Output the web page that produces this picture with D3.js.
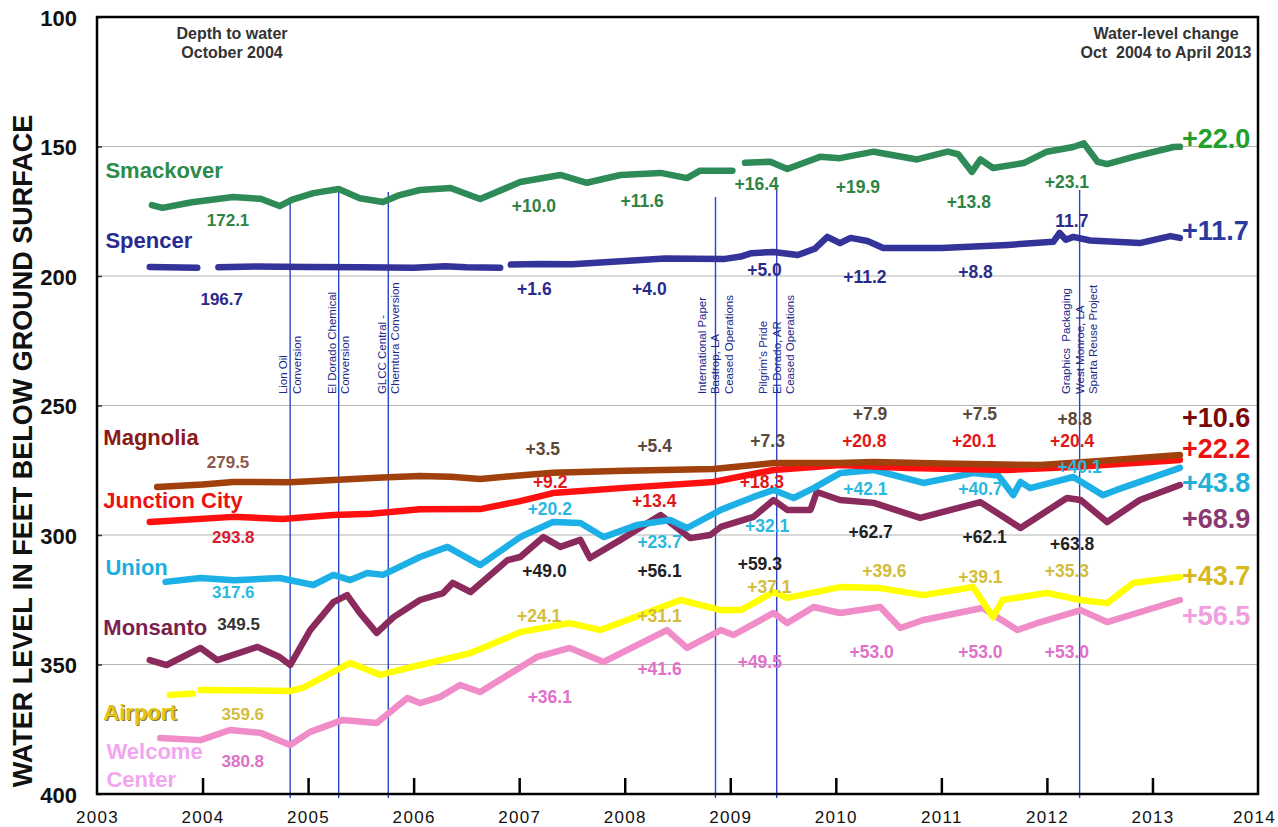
<!DOCTYPE html>
<html>
<head>
<meta charset="utf-8">
<script src="https://cdn.jsdelivr.net/npm/d3@7"></script>
<style>
  body { margin: 0; background: #fff; }
  svg { display: block; font-family: "Liberation Sans", Arial, sans-serif; }
</style>
</head>
<body>
<svg width="1278" height="827"></svg>
<script>
// water levels, [year, depth below surface in ft]; null = gap in record
const smackover = [[2003.52,172.6],[2003.62,173.7],[2003.9,171.5],[2004.29,169.5],[2004.55,170.2],[2004.73,173],[2004.85,170.5],[2005.05,168],[2005.29,166.4],[2005.49,170],[2005.71,171.4],[2005.85,169],[2006.06,166.8],[2006.35,166],[2006.63,170.3],[2007.01,163.7],[2007.39,161],[2007.64,164],[2007.96,161],[2008.34,160.2],[2008.59,162.2],[2008.71,159.4],[2009.02,159.4],null,[2009.14,156.3],[2009.38,155.9],[2009.54,158.7],[2009.85,154],[2010.04,154.5],[2010.36,152],[2010.77,155],[2011.06,152],[2011.16,153],[2011.29,159.8],[2011.37,155],[2011.49,158.3],[2011.78,156.4],[2012.0,152],[2012.25,150.2],[2012.35,148.8],[2012.48,155.9],[2012.57,156.8],[2012.82,154],[2013.2,150.2],[2013.26,150.1]];
const spencer = [[2003.5,196.5],[2003.95,196.8],null,[2004.15,196.6],[2004.5,196.3],[2005.0,196.5],[2005.5,196.6],[2006.0,196.8],[2006.3,196.2],[2006.5,196.6],[2006.82,196.8],null,[2006.92,195.6],[2007.2,195.4],[2007.5,195.5],[2008.0,194.2],[2008.38,193.2],[2008.95,193.4],[2009.1,192.5],[2009.2,191.2],[2009.41,190.7],[2009.64,191.9],[2009.8,189.5],[2009.92,184.9],[2010.04,187.3],[2010.14,185.3],[2010.3,186.5],[2010.45,189.2],[2011.0,189.2],[2011.63,188],[2012.06,186.8],[2012.12,183.4],[2012.18,186],[2012.25,184.9],[2012.41,186.3],[2012.88,187.3],[2013.17,184.6],[2013.26,185.3]];
const magnolia = [[2003.57,281.5],[2004.0,280.5],[2004.29,279.5],[2004.83,279.6],[2005.24,278.8],[2005.7,277.8],[2006.06,277.2],[2006.35,277.5],[2006.63,278.4],[2007.0,277],[2007.32,276],[2008.0,275.2],[2008.84,274.5],[2009.41,272.2],[2010.04,272.2],[2010.36,271.8],[2011.0,272.4],[2011.94,273],[2012.5,271.4],[2013.26,269.1]];
const junctionCity = [[2003.5,295],[2004.29,293],[2004.76,293.8],[2005.24,292.3],[2005.6,291.8],[2006.06,290.1],[2006.63,290],[2007.0,287],[2007.32,283.8],[2007.96,281.9],[2008.84,279.5],[2009.41,274.9],[2010.04,273],[2010.67,274.1],[2011.62,274.9],[2012.25,273.7],[2013.26,271]];
const union = [[2003.65,318.1],[2003.98,316.6],[2004.3,317.5],[2004.73,316.6],[2005.05,319.3],[2005.24,315.4],[2005.4,317.4],[2005.56,314.7],[2005.71,315.4],[2006.06,308.5],[2006.32,304.6],[2006.63,311.6],[2007.01,300.8],[2007.32,295],[2007.58,295.4],[2007.8,300.8],[2008.12,296.1],[2008.43,294.2],[2008.59,297.3],[2008.91,290.3],[2009.22,285.3],[2009.41,282.6],[2009.6,285.7],[2009.79,281.9],[2010.04,276.1],[2010.36,274.9],[2010.83,279.9],[2011.3,276.1],[2011.54,277],[2011.68,284.6],[2011.75,279.5],[2011.84,281.9],[2012.25,277.6],[2012.53,284.6],[2012.66,282.6],[2013.26,274.1]];
const monsanto = [[2003.5,348.3],[2003.66,350.2],[2003.98,343.6],[2004.14,348.3],[2004.52,343.2],[2004.73,347.1],[2004.83,350.2],[2005.02,336.7],[2005.24,325.9],[2005.37,323.2],[2005.49,330.1],[2005.65,337.8],[2005.81,331.7],[2006.06,325.1],[2006.28,322.4],[2006.37,318.5],[2006.54,322],[2006.89,309.7],[2007.01,308.5],[2007.23,300.8],[2007.39,304.6],[2007.58,301.9],[2007.67,308.9],[2007.96,301.9],[2008.34,292.3],[2008.62,301.2],[2008.81,300],[2008.91,296.9],[2009.22,293],[2009.41,286.5],[2009.54,290.3],[2009.76,290.3],[2009.82,283.4],[2010.04,286.5],[2010.36,287.6],[2010.8,293.4],[2011.37,287.3],[2011.75,297.3],[2012.19,285.7],[2012.32,286.5],[2012.57,295],[2012.88,286.5],[2013.26,280.7]];
const airport = [[2003.69,361.8],[2003.91,361.2],null,[2003.98,359.8],[2004.5,360],[2004.83,360.2],[2004.95,359],[2005.4,349.4],[2005.68,354],[2006.06,350.2],[2006.54,345.6],[2007.01,337.5],[2007.48,334],[2007.77,336.7],[2008.53,325.1],[2008.91,329],[2009.1,329],[2009.41,322],[2009.54,324.3],[2010.04,320.1],[2010.42,320.5],[2010.83,323.2],[2011.3,320.1],[2011.49,331.7],[2011.58,325.1],[2012.0,322.4],[2012.32,325.1],[2012.57,326.3],[2012.82,318.5],[2013.26,316.2]];
const welcomeCenter = [[2003.6,378.4],[2003.98,379.2],[2004.26,375.3],[2004.55,376.4],[2004.83,381.1],[2005.02,376],[2005.33,371.4],[2005.65,372.6],[2005.94,362.9],[2006.06,364.9],[2006.25,362.5],[2006.44,357.9],[2006.63,360.6],[2007.17,347.1],[2007.48,343.6],[2007.8,349],[2008.4,336.7],[2008.59,343.6],[2008.91,336.7],[2009.03,338.6],[2009.41,330.1],[2009.54,334],[2009.79,327.8],[2010.04,330.1],[2010.42,327.8],[2010.61,335.9],[2010.83,332.8],[2011.39,328.2],[2011.72,336.7],[2011.94,333.6],[2012.32,329],[2012.57,333.6],[2013.26,325.1]];

const wellNames = ["Smackover", "Spencer", "Magnolia", "Junction City", "Union", "Monsanto", "Airport", "Welcome Center"];
const depthOct2004 = ["172.1", "196.7", "279.5", "293.8", "317.6", "349.5", "359.6", "380.8"];
const changeToApr2013 = ["+22.0", "+11.7", "+10.6", "+22.2", "+43.8", "+68.9", "+43.7", "+56.5"];
const interimChanges = [
  ["+10.0", "+11.6", "+16.4", "+19.9", "+13.8", "+23.1"],
  ["+1.6", "+4.0", "+5.0", "+11.2", "+8.8", "11.7"],
  ["+3.5", "+5.4", "+7.3", "+7.9", "+7.5", "+8.8"],
  ["+9.2", "+13.4", "+18.3", "+20.8", "+20.1", "+20.4"],
  ["+20.2", "+23.7", "+32.1", "+42.1", "+40.7", "+40.1"],
  ["+49.0", "+56.1", "+59.3", "+62.7", "+62.1", "+63.8"],
  ["+24.1", "+31.1", "+37.1", "+39.6", "+39.1", "+35.3"],
  ["+36.1", "+41.6", "+49.5", "+53.0", "+53.0", "+53.0"]
];
const events = [
  { year: 2004.83, top: 169.5, text: ["Lion Oil", "Conversion"] },
  { year: 2005.29, top: 166.0, text: ["El Dorado Chemical", "Conversion"] },
  { year: 2005.76, top: 167.6, text: ["GLCC Central -", "Chemtura Conversion"] },
  { year: 2008.86, top: 169.5, text: ["International Paper", "Bastrop, LA", "Ceased Operations"] },
  { year: 2009.44, top: 165.6, text: ["Pilgrim's Pride", "El Dorado, AR", "Ceased Operations"] },
  { year: 2012.31, top: 166.8, text: ["Graphics  Packaging", "West Monroe, LA", "Sparta Reuse Project"] }
];
const yearTicks = d3.range(2003, 2015);
const depthTicks = [100, 150, 200, 250, 300, 350, 400];

// ---- layout (data units) ----
const series = [smackover, spencer, magnolia, junctionCity, union, monsanto, airport, welcomeCenter];
const lineColors = ["#2e8b57", "#33339a", "#a0400c", "#ff1010", "#1cb0e6", "#8b2a5c", "#ffff00", "#f08cc8"];
const nameColors = ["#2e8b4a", "#2a2a90", "#8b1a1a", "#ee1111", "#1aaee0", "#7a1f4f", "#e4c414", "#f2a6ee"];
const smallColors = ["#2e8444", "#2a2a8a", "#5a4838", "#e01818", "#2ab8e0", "#222222", "#d4bc3c", "#e070c8"];
const startColors = ["#2e8444", "#2a2a8a", "#8b5a4a", "#d81c2c", "#2ab8e0", "#333333", "#d4bc3c", "#e070c8"];
const finalColors = ["#22a02a", "#2a3aa0", "#7a0a0a", "#ee1111", "#22b0d8", "#8b3a70", "#d8b820", "#f0a0e0"];
const namePos = [[2003.08,162.2],[2003.08,189.2],[2003.06,265.3],[2003.06,289.6],[2003.08,315.4],[2003.06,338.6],[2003.06,371.4],[2003.09,386.5]];
const startPos = [[2004.04,180.7],[2003.98,211.2],[2004.04,274.1],[2004.09,303.1],[2004.09,324.3],[2004.14,336.7],[2004.18,371.4],[2004.18,389.6]];
const finalDepth = [150.6, 186.1, 258.3, 270.3, 283.4, 297.3, 319.3, 334.7];
const interimPos = [
  [[2006.93,175.3],[2007.96,173.4],[2009.04,166.8],[2010.0,168.0],[2011.05,173.7],[2011.98,166.0]],
  [[2006.98,207.3],[2008.07,207.3],[2009.16,200.0],[2010.07,202.7],[2011.16,200.8],[2012.08,181.1]],
  [[2007.06,269.1],[2008.12,268.0],[2009.19,266.0],[2010.16,255.6],[2011.2,255.6],[2012.1,257.5]],
  [[2007.13,281.9],[2008.07,289.2],[2009.09,281.9],[2010.06,266.0],[2011.1,266.0],[2012.03,266.0]],
  [[2007.08,292.3],[2008.12,305.0],[2009.14,298.8],[2010.07,284.6],[2011.16,284.6],[2012.1,276.1]],
  [[2007.03,316.2],[2008.12,316.2],[2009.07,313.5],[2010.12,301.2],[2011.2,303.1],[2012.03,305.8]],
  [[2006.98,333.6],[2008.12,333.6],[2009.16,322.4],[2010.25,316.2],[2011.16,318.5],[2011.98,316.2]],
  [[2007.08,364.9],[2008.12,354.1],[2009.07,351.4],[2010.13,347.5],[2011.16,347.5],[2011.98,347.5]]
];

const svg = d3.select("svg");
const x = d3.scaleLinear().domain([2003, 2014]).range([97, 1258]);
const y = d3.scaleLinear().domain([100, 400]).range([17, 794]);

// grid
svg.append("g")
  .selectAll("line")
  .data(depthTicks.slice(1, -1))
  .join("line")
  .attr("x1", x(2003)).attr("x2", x(2014))
  .attr("y1", d => y(d)).attr("y2", d => y(d))
  .attr("stroke", "#b4b4b4").attr("stroke-width", 1.2);

// y axis
const yAxis = svg.append("g")
  .attr("transform", `translate(${x(2003)},0)`)
  .call(d3.axisLeft(y).tickValues(depthTicks).tickSizeInner(-5).tickSizeOuter(0).tickPadding(20));
yAxis.select(".domain").remove();
yAxis.selectAll("line").attr("stroke", "#333").attr("stroke-width", 1.5);
yAxis.selectAll("text")
  .attr("font-family", "Liberation Sans, Arial, sans-serif")
  .attr("font-size", 22).attr("font-weight", "bold").attr("fill", "#111").attr("dy", "0.38em");

// x axis
const xAxis = svg.append("g")
  .attr("transform", `translate(0,${y(400)})`)
  .call(d3.axisBottom(x).tickValues(yearTicks).tickFormat(d3.format("d")).tickSizeInner(-16).tickSizeOuter(0).tickPadding(17));
xAxis.select(".domain").remove();
xAxis.selectAll(".tick line").attr("stroke", "#000").attr("stroke-width", 2.5)
  .filter(d => d === 2003 || d === 2014).remove();
xAxis.selectAll("text")
  .attr("font-family", "Liberation Sans, Arial, sans-serif")
  .attr("font-size", 17).attr("fill", "#111").attr("letter-spacing", "1.3px");
xAxis.selectAll(".tick text").filter(d => d === 2014).attr("dx", -4);

// event lines
const ev = svg.append("g");
ev.selectAll("line")
  .data(events)
  .join("line")
  .attr("x1", d => x(d.year)).attr("x2", d => x(d.year))
  .attr("y1", d => y(d.top)).attr("y2", y(400) + 4)
  .attr("stroke", "#2a46c8").attr("stroke-width", 1.4);

events.forEach(e => {
  const n = e.text.length;
  const t = svg.append("text")
    .attr("transform", `translate(${x(e.year)},${y(245.6)}) rotate(-90)`)
    .attr("font-size", 11.5)
    .attr("fill", "#1c2a8c");
  e.text.forEach((s, i) => {
    t.append("tspan")
      .attr("x", 0)
      .attr("y", (i - (n - 1) / 2) * 13.5 + 4)
      .attr("xml:space", "preserve")
      .text(s);
  });
});

// water level lines
const line = d3.line()
  .defined(d => d !== null)
  .x(d => x(d[0]))
  .y(d => y(d[1]));

const drawOrder = [7, 6, 5, 4, 3, 2, 1, 0];
svg.append("g")
  .selectAll("path")
  .data(drawOrder)
  .join("path")
  .attr("d", i => line(series[i]))
  .attr("fill", "none")
  .attr("stroke", i => lineColors[i])
  .attr("stroke-width", 6.5)
  .attr("stroke-linejoin", "round")
  .attr("stroke-linecap", "round");

// frame
svg.append("rect")
  .attr("x", x(2003)).attr("y", y(100))
  .attr("width", x(2014) - x(2003)).attr("height", y(400) - y(100))
  .attr("fill", "none").attr("stroke", "#000").attr("stroke-width", 2.5);

// well names
const names = svg.append("g").attr("font-weight", "bold").attr("font-size", 22);
wellNames.forEach((name, i) => {
  const [yr, dp] = namePos[i];
  const parts = name === "Welcome Center" ? ["Welcome", "Center"] : [name];
  parts.forEach((p, k) => {
    if (i === 6) {
      names.append("text")
        .attr("x", x(yr) + 1.2).attr("y", y(dp) + k * 28 + 1.2)
        .attr("fill", "#8a7a2a").text(p);
    }
    names.append("text")
      .attr("x", x(yr)).attr("y", y(dp) + k * 28)
      .attr("fill", nameColors[i]).text(p);
  });
});

// depth to water Oct 2004
svg.append("g")
  .selectAll("text")
  .data(depthOct2004)
  .join("text")
  .attr("x", (d, i) => x(startPos[i][0]))
  .attr("y", (d, i) => y(startPos[i][1]))
  .attr("font-size", 17).attr("font-weight", "bold")
  .attr("fill", (d, i) => startColors[i])
  .text(d => d);

// interim changes
const interim = svg.append("g").attr("font-size", 17.5).attr("font-weight", "bold");
interimChanges.forEach((row, i) => {
  row.forEach((s, k) => {
    interim.append("text")
      .attr("x", x(interimPos[i][k][0]))
      .attr("y", y(interimPos[i][k][1]))
      .attr("fill", smallColors[i])
      .text(s);
  });
});

// change to April 2013
svg.append("g")
  .selectAll("text")
  .data(changeToApr2013)
  .join("text")
  .attr("x", x(2013.28))
  .attr("y", (d, i) => y(finalDepth[i]))
  .attr("font-size", 27).attr("font-weight", "bold")
  .attr("fill", (d, i) => finalColors[i])
  .text(d => d);

// header notes
const hdr = svg.append("g").attr("font-size", 16).attr("font-weight", "bold").attr("fill", "#333")
  .attr("text-anchor", "middle");
hdr.append("text").attr("x", 232).attr("y", 39).text("Depth to water");
hdr.append("text").attr("x", 232).attr("y", 58).text("October 2004");
hdr.append("text").attr("x", 1166).attr("y", 39).text("Water-level change");
hdr.append("text").attr("x", 1166).attr("y", 58).attr("xml:space", "preserve").text("Oct  2004 to April 2013");

// y title
svg.append("text")
  .attr("transform", `translate(32,${y(267.6)}) rotate(-90)`)
  .attr("text-anchor", "middle")
  .attr("font-size", 27).attr("font-weight", "bold").attr("fill", "#111")
  .text("WATER LEVEL IN FEET BELOW GROUND SURFACE");
</script>
</body>
</html>
